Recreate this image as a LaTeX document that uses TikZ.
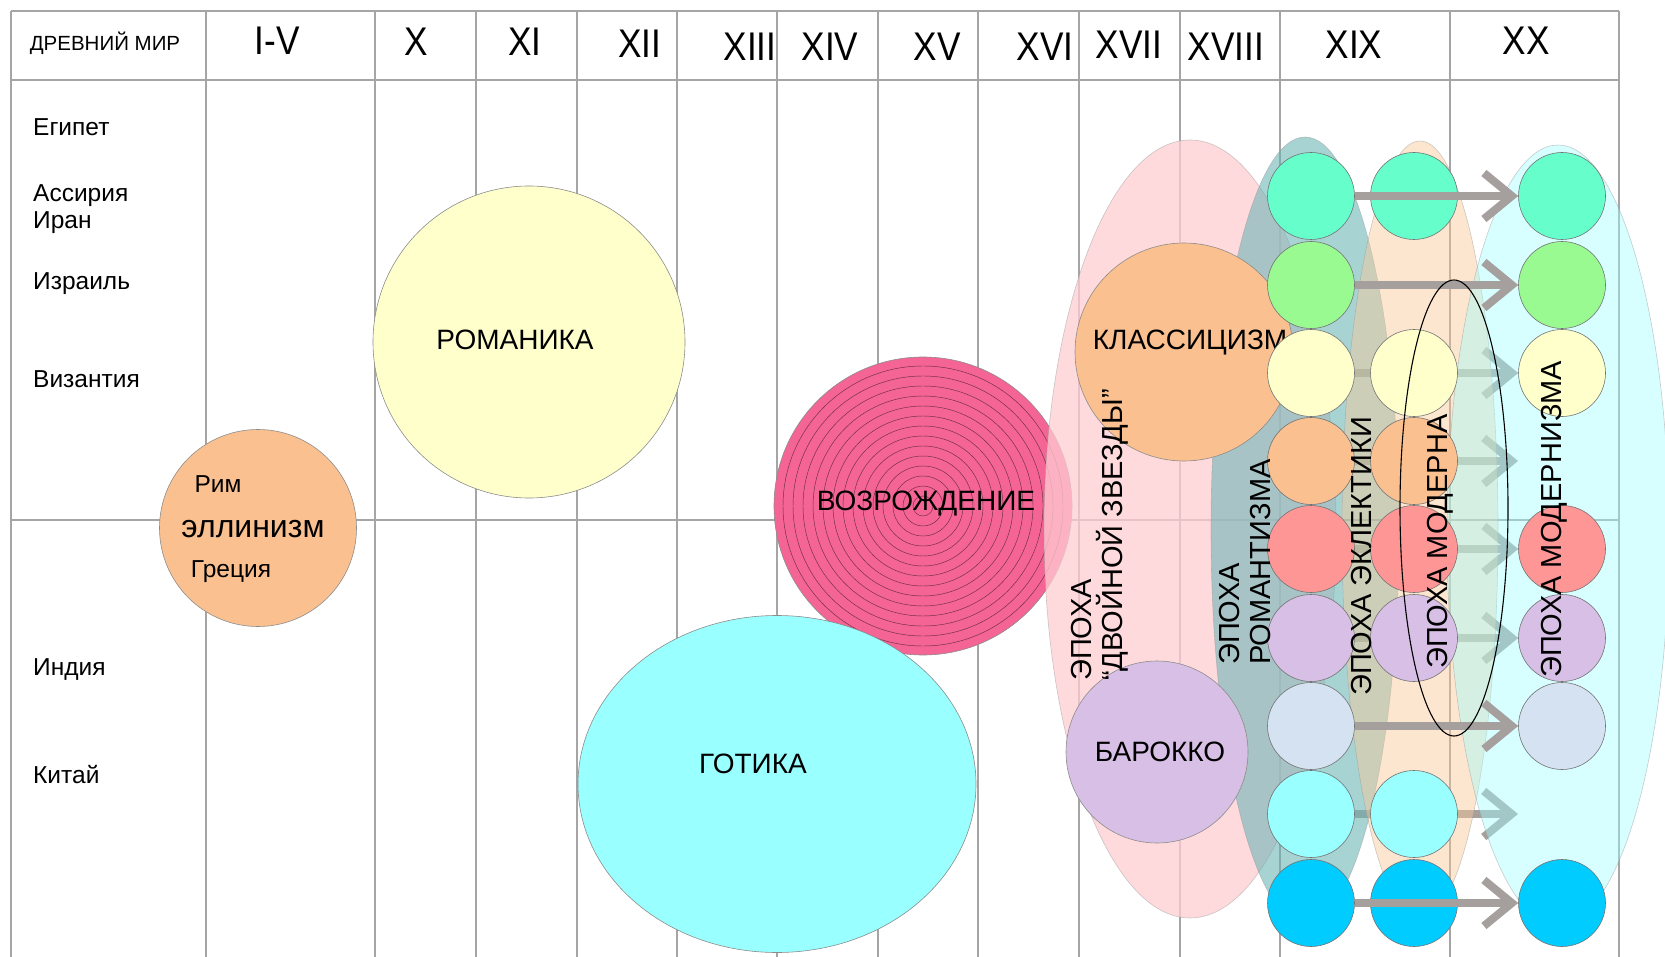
\documentclass[tikz,border=0pt]{standalone}
\usepackage{fontspec}
\setmainfont{Liberation Sans}
\newfontfamily\narrowfont{Liberation Sans}[FakeStretch=0.88]
\usetikzlibrary{shapes.geometric, arrows.meta}

\definecolor{peach}{RGB}{250,192,144}
\definecolor{cream}{RGB}{255,255,204}
\definecolor{rose}{RGB}{244,100,148}
\definecolor{skycyan}{RGB}{153,255,255}
\definecolor{lilac}{RGB}{216,191,230}
\definecolor{aquam}{RGB}{102,255,204}
\definecolor{mint}{RGB}{153,250,145}
\definecolor{salmon}{RGB}{255,150,150}
\definecolor{steel}{RGB}{212,226,242}
\definecolor{deepsky}{RGB}{0,204,255}
\definecolor{pinkera}{RGB}{255,205,210}
\definecolor{tealera}{RGB}{105,180,180}
\definecolor{peachera}{RGB}{250,200,150}
\definecolor{cyanera}{RGB}{160,255,255}
\definecolor{gridgray}{RGB}{165,165,165}
\definecolor{arrowgray}{RGB}{165,160,158}

\pgfdeclarelayer{back}
\pgfdeclarelayer{lowflow}
\pgfsetlayers{back,lowflow,main}

\begin{document}
\begin{tikzpicture}[x=1pt, y=-1pt,
    gridline/.style={draw=gridgray, line width=1.3pt},
    bigtext/.style={font=\fontsize{28}{30}\selectfont},
    country/.style={font=\fontsize{24.5}{27.6}\selectfont, anchor=base west, inner sep=0pt, align=left},
    century/.style={font=\narrowfont\fontsize{40}{40}\selectfont},
    blob/.style={circle, draw=black!45, line width=0.6pt, inner sep=0pt},
    era/.style={ellipse, draw=black!40, line width=0.6pt, inner sep=0pt, fill opacity=0.5, draw opacity=0.5},
    eratext/.style={rotate=90, anchor=west, align=left, inner sep=0pt, font=\fontsize{29}{31}\selectfont},
    dot/.style={circle, draw=black!55, line width=0.6pt, minimum size=87pt, inner sep=0pt},
    flow/.style={draw=arrowgray, line width=8pt, -{Straight Barb[length=28pt, width=46pt]}}]

  \useasboundingbox (0,0) rectangle (1665,957);

  \begin{pgfonlayer}{back}
  % table
  \foreach \x in {11,206,375,476,577,677,777,878,978,1079,1180,1280,1450,1619}
    \draw[gridline] (\x,11) -- (\x,957);
  \foreach \y in {11,80,520}
    \draw[gridline] (11,\y) -- (1619,\y);

  \node[font=\fontsize{20.5}{21}\selectfont] (ancient) at (105,43) {ДРЕВНИЙ МИР};
  \foreach \x/\y/\t [count=\i] in {277/41/I-V, 416/42/X, 525/42/XI, 640/44/XII,
      750/47/XIII, 830/47/XIV, 937/47/XV, 1045/47/XVI, 1129/45/XVII,
      1226/47/XVIII, 1354/45/XIX, 1526/41/XX}
    \node[century] (cent\i) at (\x,\y) {\t};

  \node[country] (egypt) at (33,136) {Египет};
  \node[country] (assyria) at (33,229) {Ассирия\\Иран};
  \node[country] (israel) at (33,290) {Израиль};
  \node[country] (byzant) at (33,388) {Византия};
  \node[country] (india) at (33,675) {Индия};
  \node[country] (china) at (33,783) {Китай};

  % styles of the past
  \node[blob, fill=peach, minimum size=197pt] (hellen) at (258,528) {};
  \node[font=\fontsize{24.5}{26}\selectfont] (rome) at (218,484) {Рим};
  \node[font=\fontsize{32}{34}\selectfont] (hellentext) at (253,529) {эллинизм};
  \node[font=\fontsize{24.5}{26}\selectfont] (greece) at (231,572) {Греция};

  \node[blob, fill=cream, minimum size=312pt] (roman) at (529,342) {};
  \node[bigtext] (romantext) at (515,340) {РОМАНИКА};

  \node[blob, fill=rose, minimum size=298pt] (renais) at (923,506) {};
  \foreach \k in {1,...,14}
    \draw[draw=black!55!rose, line width=0.45pt] (renais.center) circle[radius=10*\k pt];
  \node[bigtext] (renaistext) at (926,504) {ВОЗРОЖДЕНИЕ};

  \node[blob, ellipse, fill=skycyan, minimum width=398pt, minimum height=337pt] (gothic) at (777,784) {};
  \node[bigtext] (gothictext) at (753,764) {ГОТИКА};

  \node[era, fill=pinkera, fill opacity=0.75, minimum width=292pt, minimum height=778pt] (twostar) at (1190,529) {};
  \end{pgfonlayer}

  % eras of the new time
  \node[era, fill=tealera, fill opacity=0.58, minimum width=188pt, minimum height=786pt] (romantic) at (1305,530) {};
  \node[era, fill=peachera, fill opacity=0.45, minimum width=156pt, minimum height=778pt] (eclectic) at (1420,530) {};
  \node[era, fill=cyanera, fill opacity=0.42, minimum width=222pt, minimum height=780pt] (modernism) at (1558,535) {};

  \node[blob, fill=peach, minimum size=218pt] (classic) at (1184,352) {};
  \node[bigtext] (classictext) at (1190,343) {КЛАССИЦИЗМ};
  \node[blob, fill=lilac, minimum size=182pt] (baroque) at (1157,752) {};
  \node[bigtext] (baroquetext) at (1160,752) {БАРОККО};

  \foreach \col/\y [count=\r] in {aquam/196, mint/285, cream/373, peach/461, salmon/549,
      lilac/638, steel/726, skycyan/814, deepsky/903}
    \node[dot, fill=\col] (a\r) at (1311,\y) {};
  \foreach \r/\col/\y in {1/aquam/196, 3/cream/373, 4/peach/461, 5/salmon/549,
      6/lilac/638, 8/skycyan/814, 9/deepsky/903}
    \node[dot, fill=\col] (b\r) at (1414,\y) {};
  \foreach \r/\col/\y in {1/aquam/196, 2/mint/285, 3/cream/373, 5/salmon/549,
      6/lilac/638, 7/steel/726, 9/deepsky/903}
    \node[dot, fill=\col] (c\r) at (1562,\y) {};
  \coordinate (c4) at (1518,461);
  \coordinate (c8) at (1518,814);

  \begin{pgfonlayer}{lowflow}
  \foreach \r in {3,4,5,6,8}
    \draw[flow] (a\r) -- (c\r);
  \end{pgfonlayer}
  \foreach \r in {1,2,7,9}
    \draw[flow] (a\r) -- (c\r);

  \node[ellipse, draw=black, line width=1.1pt, minimum width=108pt, minimum height=456pt, inner sep=0pt] (modern) at (1454,508) {};

  \node[eratext] (twostartext) at (1100,681) {ЭПОХА\\“ДВОЙНОЙ ЗВЕЗДЫ”};
  \node[eratext] (romantictext) at (1245,665) {ЭПОХА\\РОМАНТИЗМА};
  \node[eratext] (eclectictext) at (1361,696) {ЭПОХА ЭКЛЕКТИКИ};
  \node[eratext] (moderntext) at (1440,669) {ЭПОХА МОДЕРНА};
  \node[eratext] (modernismtext) at (1554,678) {ЭПОХА МОДЕРНИЗМА};
\end{tikzpicture}
\end{document}
